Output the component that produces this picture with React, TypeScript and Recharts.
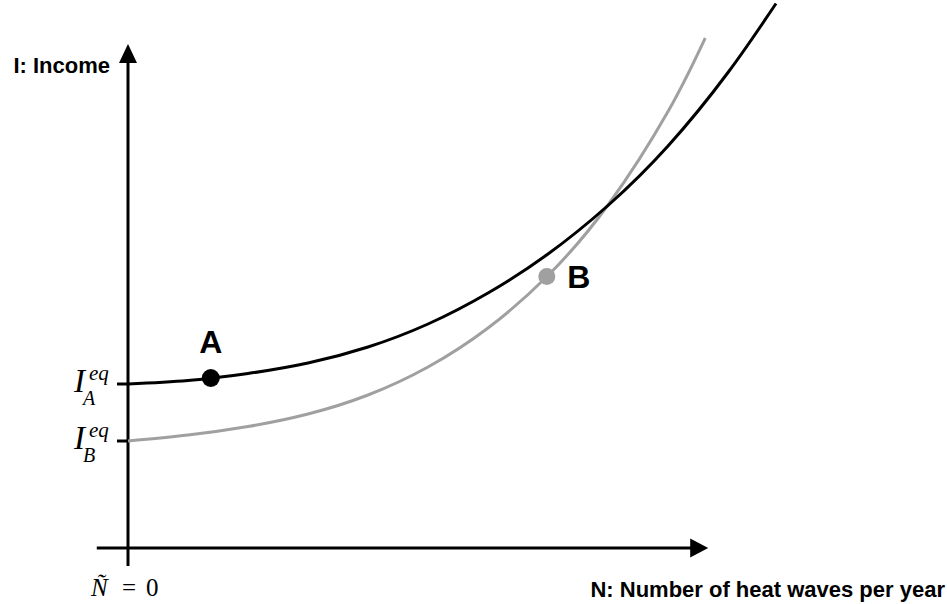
import React from 'react';
import { LineChart, Line, XAxis, YAxis, ReferenceLine, ReferenceDot, Customized } from 'recharts';

// Black curve (group A)
const N_BLACK = [0, 1, 2, 3, 4, 5, 6, 7, 8, 9, 10, 10.8];
const I_BLACK = [3.28, 3.35, 3.49, 3.7, 4.02, 4.48, 5.1, 5.88, 6.85, 8.04, 9.51, 10.89];
// Gray curve (group B)
const N_GRAY = [0, 1, 2, 3, 4, 5, 6, 7, 8, 9, 9.62];
const I_GRAY = [2.14, 2.26, 2.43, 2.68, 3.06, 3.62, 4.4, 5.45, 6.86, 8.73, 10.2];

// Equilibrium income ticks
const Y_TICKS = [3.28, 2.14];
const Y_TICK_SUBS = ['A', 'B'];
const X_TICKS = [0];

// Marked points
const POINT_N = [1.38, 6.98];
const POINT_I = [3.4, 5.43];
const POINT_LABELS = ['A', 'B'];

// Axis extents (data units)
const X_AXIS_START = -0.52;
const X_AXIS_END = 9.4;
const X_ARROW_TIP = 9.67;
const Y_AXIS_START = -0.36;
const Y_AXIS_END = 9.7;
const Y_ARROW_TIP = 10.08;

const blackData = N_BLACK.map((n, i) => ({ n, i: I_BLACK[i] }));
const grayData = N_GRAY.map((n, i) => ({ n, i: I_GRAY[i] }));

const GRAY = '#a0a0a0';
const SANS = "'Liberation Sans', Arial, Helvetica, sans-serif";
const SERIF = "'Liberation Serif', 'Times New Roman', serif";

const YTick = (props: any) => {
  const { x, y, index } = props;
  return (
    <text fontFamily={SERIF} fontStyle="italic" fill="#000">
      <tspan x={x - 41} y={y + 8} fontSize={33}>I</tspan>
      <tspan x={x - 26} y={y - 4} fontSize={21}>eq</tspan>
      <tspan x={x - 32} y={y + 21} fontSize={20}>{Y_TICK_SUBS[index]}</tspan>
    </text>
  );
};

const XTick = (props: any) => {
  const { x } = props;
  return (
    <text y={598} fontFamily={SERIF} fontSize={25} fill="#000">
      <tspan x={x - 37} fontStyle="italic">Ñ</tspan>
      <tspan x={x - 6}>=</tspan>
      <tspan x={x + 18}>0</tspan>
    </text>
  );
};

const RightArrow = (p: any) => {
  const { cx, cy } = p;
  return <polygon points={`${cx},${cy} ${cx - 18},${cy - 9.5} ${cx - 18},${cy + 9.5}`} fill="#000" />;
};
const UpArrow = (p: any) => {
  const { cx, cy } = p;
  return <polygon points={`${cx},${cy} ${cx - 9},${cy + 19} ${cx + 9},${cy + 19}`} fill="#000" />;
};

const Titles = () => (
  <g>
    <text x={110} y={75} textAnchor="end" fontFamily={SANS} fontWeight="bold" fontSize={22} fill="#000">
      I: Income
    </text>
    <text x={945} y={599} textAnchor="end" fontFamily={SANS} fontWeight="bold" fontSize={22} fill="#000">
      N: Number of heat waves per year
    </text>
  </g>
);

export default function App() {
  return (
    <div style={{ position: 'absolute', left: 0, top: -2 }}>
      <LineChart width={947} height={606} margin={{ top: 0, right: 99, bottom: 0, left: 0 }}>
        <XAxis
          type="number"
          dataKey="n"
          domain={[0, 12]}
          ticks={X_TICKS}
          axisLine={false}
          tickLine={false}
          height={56}
          tick={<XTick />}
          allowDecimals
        />
        <YAxis
          type="number"
          dataKey="i"
          domain={[0, 11]}
          ticks={Y_TICKS}
          axisLine={false}
          tickLine={{ stroke: '#000', strokeWidth: 3 }}
          tickSize={11}
          width={128}
          tick={<YTick />}
          interval={0}
        />
        <ReferenceLine
          segment={[{ x: X_AXIS_START, y: 0 }, { x: X_AXIS_END, y: 0 }]}
          stroke="#000"
          strokeWidth={3}
          ifOverflow="visible"
        />
        <ReferenceLine
          segment={[{ x: 0, y: Y_AXIS_START }, { x: 0, y: Y_AXIS_END }]}
          stroke="#000"
          strokeWidth={3}
          ifOverflow="visible"
        />
        <ReferenceDot x={X_ARROW_TIP} y={0} r={1} ifOverflow="visible" shape={RightArrow} />
        <ReferenceDot x={0} y={Y_ARROW_TIP} r={1} ifOverflow="visible" shape={UpArrow} />
        <Line
          data={grayData}
          dataKey="i"
          type="natural"
          stroke={GRAY}
          strokeWidth={3}
          dot={false}
          isAnimationActive={false}
        />
        <Line
          data={blackData}
          dataKey="i"
          type="natural"
          stroke="#000"
          strokeWidth={3}
          dot={false}
          isAnimationActive={false}
        />
        <ReferenceDot
          x={POINT_N[0]}
          y={POINT_I[0]}
          r={9}
          fill="#000"
          stroke="none"
          ifOverflow="visible"
          label={{ value: POINT_LABELS[0], position: 'top', offset: 16, fontSize: 32, fontWeight: 'bold', fill: '#000', fontFamily: SANS }}
        />
        <ReferenceDot
          x={POINT_N[1]}
          y={POINT_I[1]}
          r={8.5}
          fill={GRAY}
          stroke="none"
          ifOverflow="visible"
          label={{ value: POINT_LABELS[1], position: 'right', offset: 12, fontSize: 32, fontWeight: 'bold', fill: '#000', fontFamily: SANS }}
        />
        <Customized component={Titles} />
      </LineChart>
    </div>
  );
}
